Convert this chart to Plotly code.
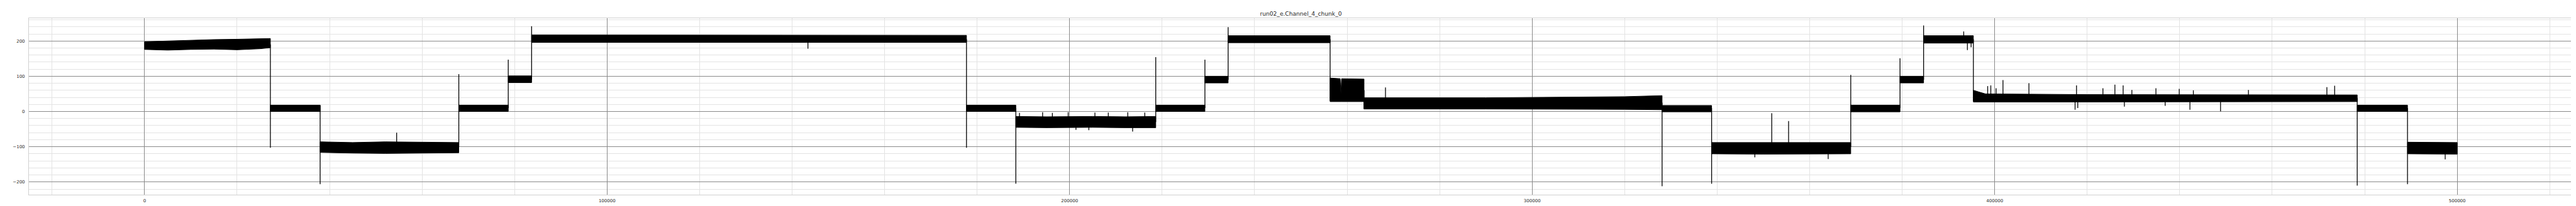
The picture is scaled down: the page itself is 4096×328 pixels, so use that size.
import plotly.graph_objects as go

# ---------------- data ----------------
title_text = "run02_e.Channel_4_chunk_0"

x_tick_vals = [0, 100000, 200000, 300000, 400000, 500000]
x_tick_text = ["0", "100000", "200000", "300000", "400000", "500000"]
y_tick_vals = [-200, -100, 0, 100, 200]
y_tick_text = ["\u2212200", "\u2212100", "0", "100", "200"]

# noisy plateaus: x knots and the upper / lower edge of the noise band
band_x = [
    [0, 5000, 10000, 15000, 20000, 25000, 27200],
    [27200, 37960],
    [37960, 45000, 52000, 60000, 67940],
    [67940, 78630],
    [78630, 83680],
    [83680, 110000, 140000, 177700],
    [177700, 188370],
    [188370, 195000, 205000, 212000, 218620],
    [218620, 229250],
    [229250, 234270],
    [234270, 256320],
    [256320, 258500, 258650, 258800, 263650],
    [263650, 290000, 320000, 328090],
    [328090, 338800],
    [338800, 350000, 360000, 368880],
    [368880, 379530],
    [379530, 384630],
    [384630, 395390],
    [395390, 398000, 420000, 450000, 478380],
    [478380, 489250],
    [489250, 500000],
]
band_top = [
    [198, 200, 203, 204, 205, 206, 207],
    [18, 18],
    [-86, -88, -86, -87, -88],
    [18, 18],
    [101, 101],
    [217, 217, 217, 216],
    [18, 18],
    [-14, -15, -14, -15, -14],
    [18, 18],
    [100, 100],
    [215, 215],
    [95, 93, 50, 93, 92],
    [39, 39, 42, 45],
    [17, 17],
    [-88, -88, -87, -88],
    [18, 18],
    [100, 100],
    [215, 215],
    [60, 50, 48, 47, 47],
    [18, 18],
    [-87, -88],
]
band_bot = [
    [176, 174, 176, 177, 175, 178, 181],
    [0, 0],
    [-116, -118, -119, -118, -117],
    [0, 0],
    [82, 82],
    [196, 196, 196, 196],
    [0, 0],
    [-45, -46, -45, -46, -46],
    [0, 0],
    [81, 81],
    [195, 195],
    [28, 28, 28, 28, 28],
    [7, 7, 6, 5],
    [-1, -1],
    [-120, -121, -121, -120],
    [-1, -1],
    [81, 81],
    [194, 194],
    [27, 27, 27, 27, 28],
    [0, 0],
    [-120, -121],
]

# level changes: x, start value, extreme value reached by the jump
trans_x = [27200, 37960, 67940, 78630, 83680, 177700, 188370, 218620, 229250, 234270,
           256320, 263650, 328090, 338800, 368880, 379530, 384630, 395390, 478380, 489250]
trans_from = [190, 18, -100, 10, 90, 205, 10, -30, 10, 90,
              205, 60, 25, 10, -100, 10, 90, 205, 38, 10]
trans_to = [-103, -206, 106, 147, 242, -103, -205, 154, 147, 239,
            30, 7, -212, -205, 104, 151, 244, 30, -210, -206]

# isolated spikes: x and peak value
spike_x = [54500, 143420,
           189160, 194160, 196270, 199690, 205470, 208360, 212570, 216250,
           201370, 204160, 213620,
           268290,
           348140, 351800, 355440, 364000,
           393300, 394100, 394900,
           398480, 399160, 400300, 401790, 407400, 417690, 423400, 425990, 427770,
           429660, 434860, 439900, 442950, 454860, 471820, 473500,
           417380, 417960, 428040, 436860, 442210, 448830,
           497400]
spike_y = [-60, 178,
           -4, -2, -4, -2, -3, -3, -2, -3,
           -52, -53, -57,
           68,
           -130, -5, -27, -135,
           227, 174, 182,
           72, 74, 66, 89, 80, 74, 66, 76, 74,
           61, 66, 64, 60, 61, 69, 73,
           5, 10, 14, 16, 5, 0.5,
           -136]

# ---------------- build traces ----------------
S = 0.758  # scale factor relative to the reference

poly_x, poly_y = [], []
for xs, tops, bots in zip(band_x, band_top, band_bot):
    poly_x += list(xs) + list(xs[::-1]) + [xs[0], None]
    poly_y += list(tops) + list(bots[::-1]) + [tops[0], None]

line_x, line_y = [], []
for tx, a, b in zip(trans_x, trans_from, trans_to):
    line_x += [tx, tx, None]
    line_y += [a, b, None]

seg_start = [xs[0] for xs in band_x]
for sx, sy in zip(spike_x, spike_y):
    k = max(i for i, s in enumerate(seg_start) if s <= sx)
    base = (band_top[k][0] + band_bot[k][0]) / 2.0
    line_x += [sx, sx, None]
    line_y += [base, sy, None]

fig = go.Figure()
fig.add_trace(go.Scatter(
    x=poly_x, y=poly_y, mode="lines", fill="toself",
    fillcolor="black", line=dict(color="black", width=1.0),
    hoverinfo="skip", showlegend=False,
))
fig.add_trace(go.Scatter(
    x=line_x, y=line_y, mode="lines",
    line=dict(color="black", width=1.3),
    hoverinfo="skip", showlegend=False,
))

font_family = "DejaVu Sans"
major_grid = "#8a8a8a"
minor_grid = "#e3e3e3"
frame_col = "#d0d0d0"

fig.update_layout(
    width=4096, height=328,
    margin=dict(l=34.5, r=13.4, t=21.0, b=21.5, pad=0),
    paper_bgcolor="white", plot_bgcolor="white",
    showlegend=False,
    title=dict(text=title_text, x=0.5, xref="paper", xanchor="center",
               y=1 - 13.6 / 328, yref="container", yanchor="middle",
               font=dict(family=font_family, size=12 * S, color="#262626")),
    font=dict(family=font_family, color="#262626"),
)
fig.update_xaxes(
    range=[-25000, 525000],
    tickmode="array", tickvals=x_tick_vals, ticktext=x_tick_text,
    tickfont=dict(family=font_family, size=9.3 * S, color="#262626"),
    ticks="outside", ticklen=3, tickcolor="rgba(0,0,0,0)",
    showgrid=True, gridcolor=major_grid, gridwidth=1.1,
    minor=dict(dtick=20000, tick0=0, showgrid=True, gridcolor=minor_grid, gridwidth=1),
    zeroline=False,
    showline=True, mirror=True, linecolor=frame_col, linewidth=1,
)
fig.update_yaxes(
    range=[-236, 264.6],
    tickmode="array", tickvals=y_tick_vals, ticktext=y_tick_text,
    tickfont=dict(family=font_family, size=9.3 * S, color="#262626"),
    ticks="outside", ticklen=4, tickcolor="rgba(0,0,0,0)",
    showgrid=True, gridcolor=major_grid, gridwidth=1.1,
    minor=dict(dtick=20, tick0=0, showgrid=True, gridcolor=minor_grid, gridwidth=1),
    zeroline=False,
    showline=True, mirror=True, linecolor=frame_col, linewidth=1,
)

fig.write_html("out.html")
